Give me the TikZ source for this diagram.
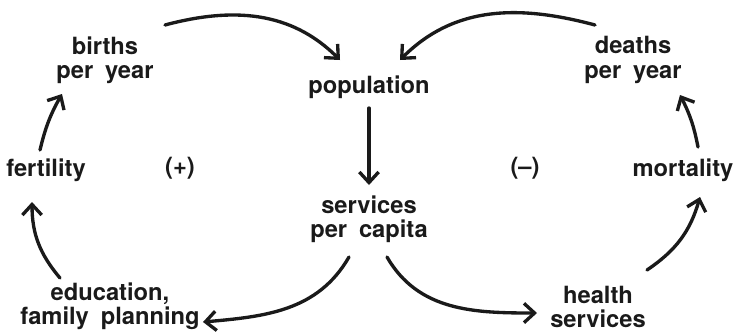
\documentclass[tikz,border=0pt]{standalone}
\usepackage{fontspec}
\setmainfont{TeX Gyre Heros}
\usetikzlibrary{positioning, arrows.meta}
\definecolor{loopBlack}{HTML}{1A1A1A}
\newcommand{\varfont}{\fontsize{13.5}{13.8}\selectfont\bfseries\spaceskip 0.5em plus 0.1em\relax}

\begin{document}
\begin{tikzpicture}[on grid,
    var/.style={font=\varfont, align=center, inner sep=1pt, text=loopBlack},
    link/.style={-{Straight Barb[length=6pt, width=11pt, line width=1.9pt]},
      line width=1.9pt, draw=loopBlack, line cap=round}]
    \useasboundingbox (-7.38,1.74) rectangle (7.40,-4.92);
    \node[var] (population) {population};
    \node[var, below=2.64cm of population] (services) {services\\per capita};
    \node[var, above left=0.54cm and 5.28cm of population] (births) {births\\per year};
    \node[var, above right=0.54cm and 5.28cm of population] (deaths) {deaths\\per year};
    \node[var, below left=1.66cm and 6.46cm of population] (fertility) {fertility};
    \node[var, below right=1.66cm and 6.28cm of population] (mortality) {mortality};
    \node[var, below left=4.38cm and 5.18cm of population] (education) {education,\\family planning};
    \node[var, below right=4.40cm and 4.58cm of population] (health) {health\\services};
    % loop signs
    \node[var, below left=1.62cm and 3.78cm of population] (plus) {(+)};
    \node[var, below right=1.62cm and 3.12cm of population] (minus) {(--)};
    % flows into population
    \draw[link] ([shift={(1.2,0.7)}]births.center) to[out=15, in=135] ([shift={(-0.58,0.54)}]population.center);
    \draw[link] ([shift={(-0.76,0.7)}]deaths.center) to[out=165, in=45] ([shift={(0.62,0.54)}]population.center);
    \draw[link] ([yshift=-0.42cm]population.center) -- ([yshift=0.68cm]services.center);
    % positive loop
    \draw[link] ([shift={(-0.12,0.4)}]fertility.center) to[bend left=8] ([shift={(-0.86,-0.68)}]births.center);
    \draw[link] ([shift={(-1.0,0.56)}]education.center) to[bend left=20] ([shift={(-0.28,-0.64)}]fertility.center);
    \draw[link] ([shift={(-0.4,-0.76)}]services.center) to[out=240, in=5] ([shift={(1.86,-0.32)}]education.center);
    % negative loop
    \draw[link] ([shift={(0.36,-0.76)}]services.center) to[out=300, in=180] ([shift={(-1.22,-0.12)}]health.center);
    \draw[link] ([shift={(0.98,0.74)}]health.center) to[bend right=20] ([shift={(0.34,-0.54)}]mortality.center);
    \draw[link] ([shift={(0.3,0.46)}]mortality.center) to[bend right=8] ([shift={(0.94,-0.7)}]deaths.center);
  \end{tikzpicture}
\end{document}
